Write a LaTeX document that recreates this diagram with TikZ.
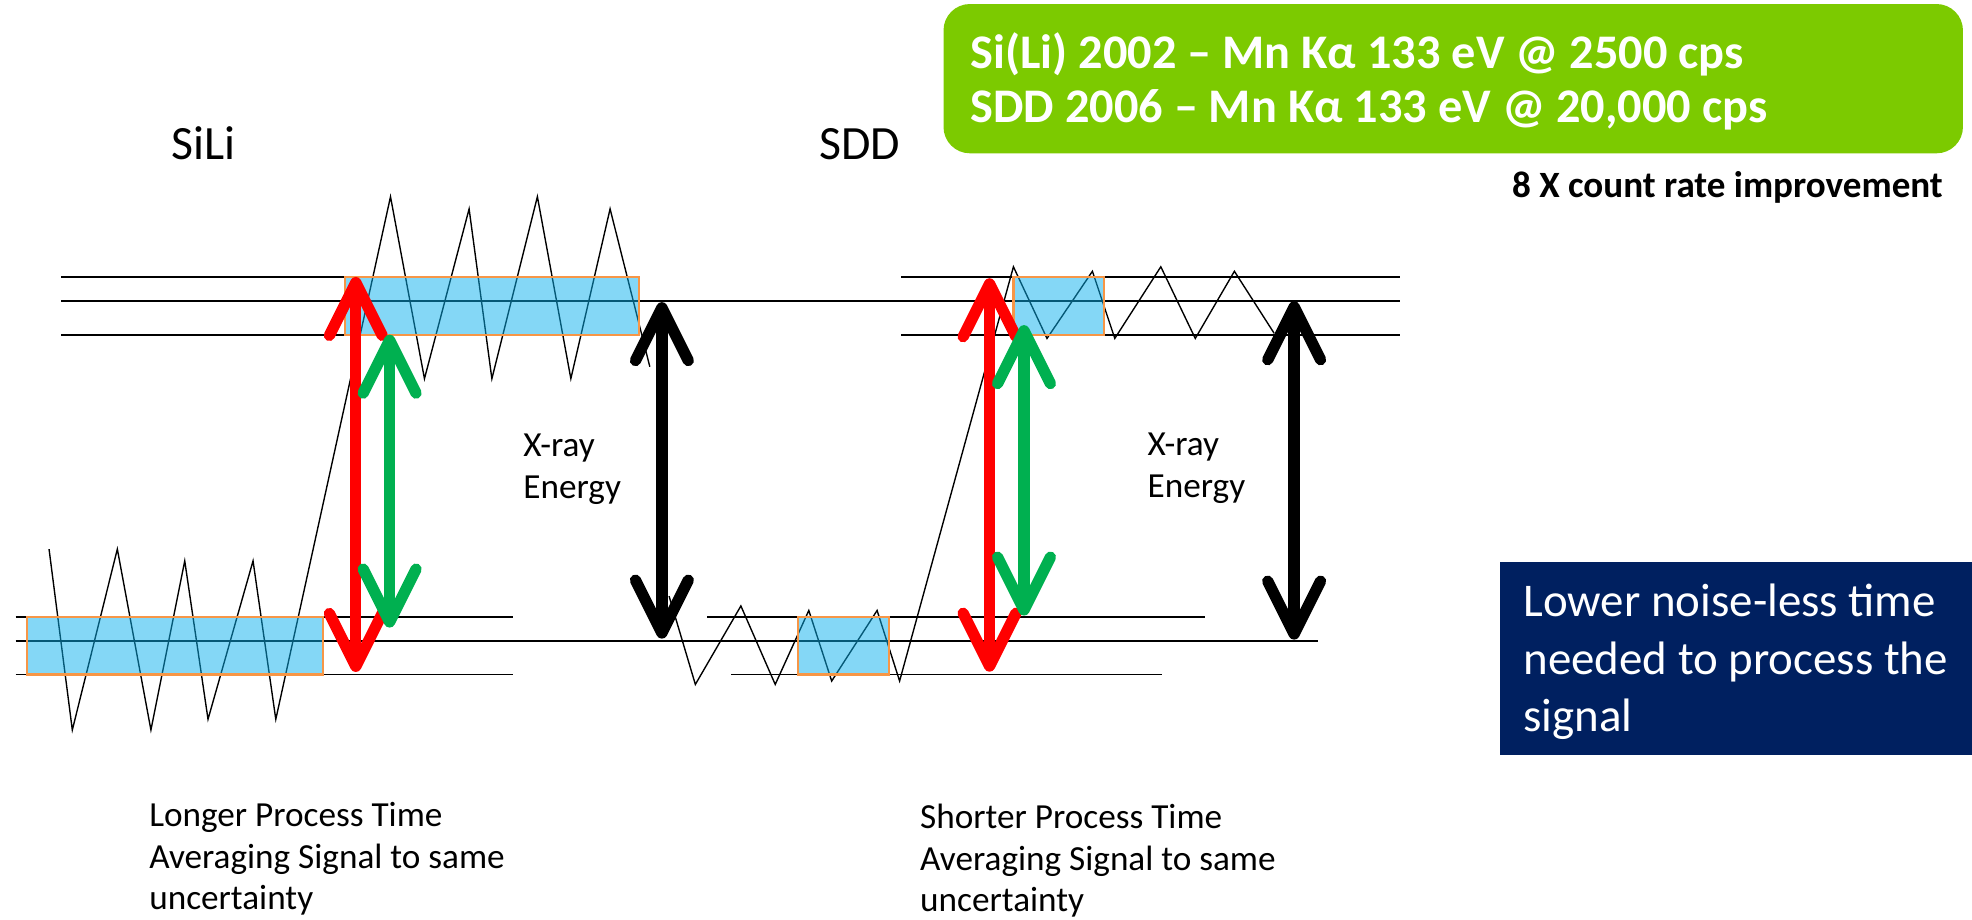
\documentclass[tikz,border=0pt]{standalone}
\usepackage{fontspec}
\setmainfont{Carlito}
\usetikzlibrary{arrows.meta}
\definecolor{boxblue}{RGB}{10,176,237}
\definecolor{boxorange}{RGB}{247,150,70}
\definecolor{limegreen}{RGB}{124,202,0}
\definecolor{navyblue}{RGB}{0,32,96}
\definecolor{arrgreen}{RGB}{0,176,80}
\definecolor{arrred}{RGB}{255,0,0}
\begin{document}
\begin{tikzpicture}[x=1pt,y=-1pt,
  hline/.style={line width=1.5pt},
  zig/.style={line width=1.1pt},
  sig/.style={draw=boxorange, line width=1.8pt, fill=boxblue, fill opacity=0.5},
  dbl/.style={line width=9pt, {Straight Barb[length=42pt,width=42pt,round]}-{Straight Barb[length=42pt,width=42pt,round]}},
  lbl/.style={font=\fontsize{28}{33}\selectfont, anchor=base west, inner sep=0pt},
  big/.style={font=\fontsize{38}{45}\selectfont, anchor=base west, inner sep=0pt},
  gtxt/.style={font=\bfseries\fontsize{38.4}{45}\selectfont, text=white, anchor=base west, inner sep=0pt},
  ntxt/.style={font=\fontsize{37.3}{45}\selectfont, text=white, anchor=base west, inner sep=0pt}
]
\useasboundingbox (0,0) rectangle (1568,731);

% horizontal levels
\draw[hline] (48.6,220.2) -- (508,220.2);
\draw[hline] (48.6,239) -- (1113,239);
\draw[hline] (48.6,266.2) -- (508,266.2);
\draw[hline] (716.5,220.3) -- (1113,220.3);
\draw[hline] (716.5,266.3) -- (1113,266.3);
\draw[hline] (12.4,490.5) -- (408,490.5);
\draw[hline] (12.4,509.4) -- (1048,509.4);
\draw[hline] (12.4,536.3) -- (408,536.3);
\draw[hline] (562.4,490.3) -- (958,490.3);
\draw[hline] (581.5,536.3) -- (923.7,536.3);

% SiLi signal
\draw[zig] (39,436.6) -- (57.5,580.4) -- (93.3,436.6) -- (120,580.4) -- (146.9,446) -- (165.4,571.9)
  -- (201.2,446) -- (219.3,571.9) -- (310.5,156.4) -- (337.5,301.1) -- (373,166.1) -- (391.1,301.1)
  -- (427.3,156.4) -- (453.9,301.1) -- (485.1,166.1) -- (516.7,291.6);
% SDD signal
\draw[zig] (532,474) -- (552.9,544.2) -- (589.1,481.8) -- (616.4,544.2) -- (643.1,485.4) -- (661.3,541.5)
  -- (697.4,485.4) -- (715.3,541.5) -- (805.8,212.1) -- (832.5,269.1) -- (868.6,215.7) -- (886.4,269.1)
  -- (923,212.1) -- (950.4,269.1) -- (981.5,215.7) -- (1013.1,265);

% averaging windows
\draw[sig] (274.3,220.2) rectangle (508,266.2);
\draw[sig] (21.3,490.5) rectangle (257,536.3);
\draw[sig] (805.8,220.3) rectangle (878.1,266.3);
\draw[sig] (634.7,490.3) rectangle (707,536.3);

% arrows
\coordinate (sr1) at (282.9,220.2); \coordinate (sr2) at (282.9,534.3);
\coordinate (sg1) at (309.8,266.1); \coordinate (sg2) at (309.8,499.0);
\coordinate (sb1) at (526.3,240.2); \coordinate (sb2) at (526.3,507.8);
\coordinate (dr1) at (786.8,221.2); \coordinate (dr2) at (786.8,534.1);
\coordinate (dg1) at (814.2,258.5); \coordinate (dg2) at (814.2,489.5);
\coordinate (db1) at (1029,239.5); \coordinate (db2) at (1029,508.6);
\draw[dbl, arrred] (sr1) -- (sr2);
\draw[dbl, arrgreen] (sg1) -- (sg2);
\draw[dbl, black] (sb1) -- (sb2);
\draw[dbl, arrred] (dr1) -- (dr2);
\draw[dbl, arrgreen] (dg1) -- (dg2);
\draw[dbl, black] (db1) -- (db2);

% labels
\node[big] (sili) at (136,127.2) {SiLi};
\node[big] (sdd) at (651.2,127.2) {SDD};
\node[lbl] (xr1) at (416,363.1) {X-ray};
\node[lbl] (en1) at (416,396.7) {Energy};
\node[lbl] (xr2) at (912.3,362.2) {X-ray};
\node[lbl] (en2) at (912.3,395.6) {Energy};
\node[lbl] (l1) at (118.5,657) {Longer Process Time};
\node[lbl] (l2) at (118.5,690.5) {Averaging Signal to same};
\node[lbl] (l3) at (118.5,723.5) {uncertainty};
\node[lbl] (r1) at (731.5,659) {Shorter Process Time};
\node[lbl] (r2) at (731.5,692.5) {Averaging Signal to same};
\node[lbl] (r3) at (731.5,725) {uncertainty};

% green box
\node[fill=limegreen, rounded corners=21pt, minimum width=810.6pt, minimum height=118.7pt, inner sep=0pt] (gbox) at (1155.5,62.55) {};
\node[gtxt] (g1) at (771.5,54.5) {Si(Li) 2002 – Mn Kα 133 eV @ 2500 cps};
\node[gtxt] (g2) at (771.5,97.5) {SDD 2006 – Mn Kα 133 eV @ 20,000 cps};
\node[font=\bfseries\fontsize{29.5}{35}\selectfont, anchor=base east, inner sep=0pt] (imp) at (1545,157) {8 X count rate improvement};

% navy box
\node[fill=navyblue, minimum width=375.4pt, minimum height=153.7pt, inner sep=0pt] (nbox) at (1380.3,523.45) {};
\node[ntxt] (n1) at (1211.2,490.5) {Lower noise-less time};
\node[ntxt] (n2) at (1211.2,536) {needed to process the};
\node[ntxt] (n3) at (1211.2,581.5) {signal};
\end{tikzpicture}
\end{document}
